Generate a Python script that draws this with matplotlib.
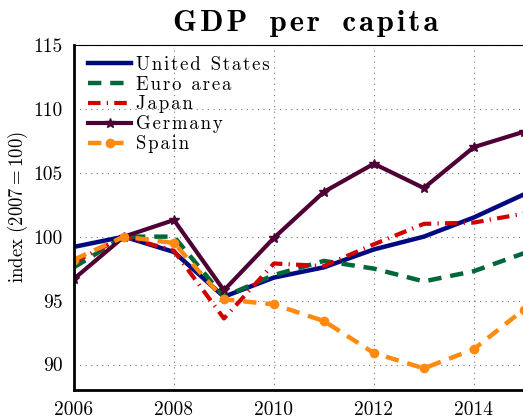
import numpy as np
import matplotlib
matplotlib.use("Agg")
import matplotlib.pyplot as plt

# GDP per capita, index 2007 = 100
years = [2006, 2007, 2008, 2009, 2010, 2011, 2012, 2013, 2014, 2015]
united_states = [99.2, 100.0, 98.8, 95.3, 96.8, 97.6, 99.0, 100.0, 101.5, 103.3]
euro_area = [97.6, 100.0, 100.0, 95.3, 97.0, 98.1, 97.5, 96.5, 97.3, 98.7]
japan = [98.0, 100.0, 98.9, 93.6, 97.9, 97.7, 99.4, 101.0, 101.1, 101.8]
germany = [96.7, 100.0, 101.3, 95.8, 99.9, 103.5, 105.7, 103.8, 107.0, 108.2]
spain = [98.2, 100.0, 99.5, 95.1, 94.7, 93.4, 90.9, 89.7, 91.2, 94.3]

plt.rcParams["font.family"] = ["cmr10", "DejaVu Serif"]
plt.rcParams["axes.unicode_minus"] = False
plt.rcParams["mathtext.fontset"] = "cm"

HAIR = "\u200a"
THIN = "\u2009"


def tracked(s, gap):
    # loose letter spacing, like the LaTeX-rendered original
    return gap.join(s)


fig = plt.figure(figsize=(5.23, 4.19), dpi=100)
ax = fig.add_axes([0.1415, 0.069, 0.86, 0.824])

ax.plot(years, united_states, color="#000a80", lw=3.2,
        label=tracked("United States", HAIR))
ax.plot(years, euro_area, color="#00673a", lw=3.2, ls=(0, (3, 2)),
        label=tracked("Euro area", HAIR))
ax.plot(years, japan, color="#d00000", lw=3.0, ls=(0, (3, 1.5, 0.3, 1.5)),
        label=tracked("Japan", HAIR))
ax.plot(years, germany, color="#4e0035", lw=3.0, marker="*", ms=7,
        label=tracked("Germany", HAIR))
ax.plot(years, spain, color="#ff8a10", lw=3.2, ls=(0, (3, 2)), marker="o", ms=6,
        label=tracked("Spain", HAIR))

ax.set_xlim(2006, 2015)
ax.set_ylim(88, 115)
ax.set_xticks([2006, 2008, 2010, 2012, 2014])
ax.set_yticks([90, 95, 100, 105, 110, 115])
ax.tick_params(direction="in", labelsize=14, length=0, pad=8)
ax.grid(True, ls=(0, (1, 4)), color="#777777", lw=0.8)

for side in ["top", "right"]:
    ax.spines[side].set_linewidth(0.8)
for side in ["left", "bottom"]:
    ax.spines[side].set_linewidth(2.0)

ax.set_ylabel("index ($2007=100$)", fontsize=13.5)
ax.yaxis.set_label_coords(-0.097, 0.53)

title = (THIN + " " + THIN).join(tracked(w, HAIR) for w in ["GDP", "per", "capita"])
ax.set_title(title, fontfamily=["cmb10", "DejaVu Serif"], fontsize=22, pad=10, x=0.515)

ax.legend(loc="upper left", bbox_to_anchor=(0.015, 0.99), frameon=False,
          fontsize=13.5, handlelength=2.3, labelspacing=0.1, handletextpad=0.25,
          borderaxespad=0.0, numpoints=1)

fig.savefig("out.png", dpi=100)
